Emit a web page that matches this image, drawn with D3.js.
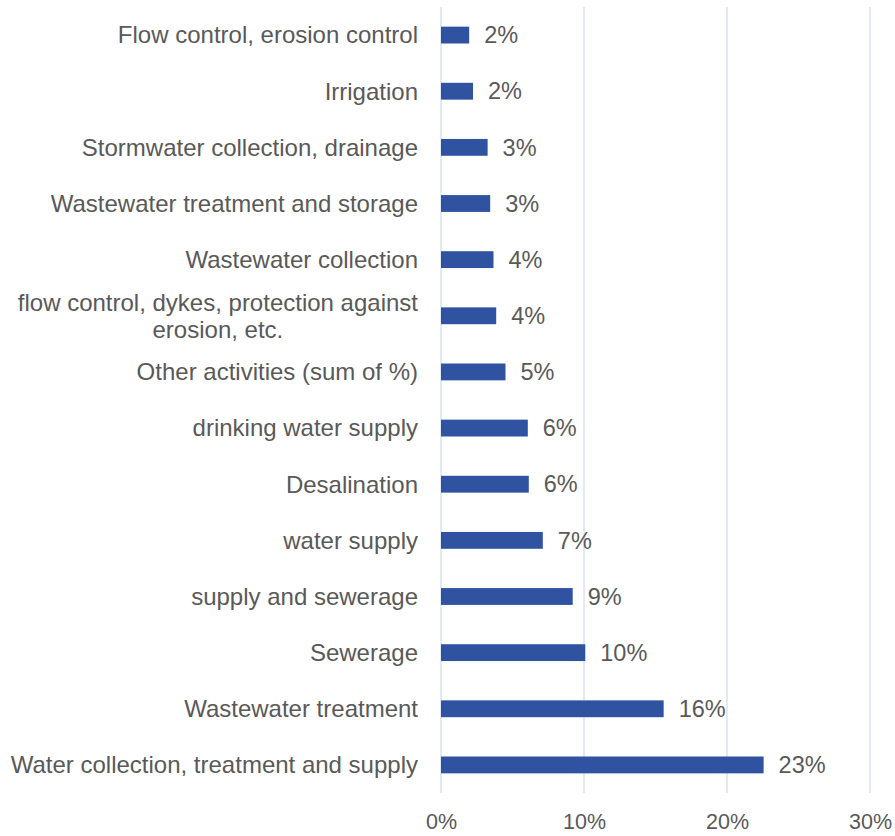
<!DOCTYPE html>
<html>
<head>
<meta charset="utf-8">
<script src="https://cdn.jsdelivr.net/npm/d3@7"></script>
<style>
  html, body { margin: 0; padding: 0; background: #fff; }
  svg { display: block; font-family: "Liberation Sans", Arial, sans-serif; }
</style>
</head>
<body>
<svg id="chart" width="895" height="836"></svg>
<script>
// Share of activities, top to bottom
const categories = [
  "Flow control, erosion control",
  "Irrigation",
  "Stormwater collection, drainage",
  "Wastewater treatment and storage",
  "Wastewater collection",
  "flow control, dykes, protection against\nerosion, etc.",
  "Other activities (sum of %)",
  "drinking water supply",
  "Desalination",
  "water supply",
  "supply and sewerage",
  "Sewerage",
  "Wastewater treatment",
  "Water collection, treatment and supply"
];
const shares = [0.0197, 0.0224, 0.0326, 0.0344, 0.0367, 0.0386, 0.0451,
                0.0607, 0.0614, 0.0712, 0.0921, 0.1009, 0.1557, 0.2256];
const tickValues = [0, 0.1, 0.2, 0.3];

const svg = d3.select("#chart");
const plotLeft = 441, plotRight = 870, plotTop = 7, plotBottom = 793;
const labelRight = 418;

const x = d3.scaleLinear().domain([0, 0.3]).range([plotLeft, plotRight]);
const y = d3.scaleBand().domain(categories).range([plotTop, plotBottom])
  .paddingInner(0.7).paddingOuter(0.35);

const fmt = d3.format(".0%");
const textColor = "#595959";

// Vertical gridlines
svg.append("g").selectAll("line").data(tickValues).join("line")
  .attr("x1", d => x(d)).attr("x2", d => x(d))
  .attr("y1", plotTop).attr("y2", plotBottom)
  .attr("stroke", "#D9E1F2").attr("stroke-width", 1.5);

// X axis labels
const xAxis = d3.axisBottom(x).tickValues(tickValues).tickFormat(fmt).tickSize(0).tickPadding(0);
const gx = svg.append("g").attr("transform", `translate(0,${plotBottom + 21})`).call(xAxis);
gx.select(".domain").remove();
gx.selectAll("text").attr("fill", textColor).attr("font-size", 21.5)
  .attr("font-family", "Liberation Sans, Arial, sans-serif");

// Bars
svg.append("g").selectAll("rect").data(categories).join("rect")
  .attr("x", x(0))
  .attr("y", d => y(d))
  .attr("width", (d, i) => x(shares[i]) - x(0))
  .attr("height", y.bandwidth())
  .attr("fill", "#2F52A1");

// Value labels
svg.append("g").selectAll("text").data(categories).join("text")
  .attr("x", (d, i) => x(shares[i]) + 15)
  .attr("y", d => y(d) + y.bandwidth() / 2)
  .attr("dy", "0.35em")
  .attr("fill", textColor).attr("font-size", 23.5)
  .text((d, i) => fmt(shares[i]));

// Category labels; wrapped labels are centred as a block ending at labelRight
svg.append("g").selectAll("text").data(categories).join("text")
  .attr("fill", textColor).attr("font-size", 24)
  .each(function(d) {
    const t = d3.select(this);
    const lines = d.split("\n");
    const cy = y(d) + y.bandwidth() / 2;
    const lh = 27;
    const spans = lines.map((ln, k) => t.append("tspan")
      .attr("y", cy + (k - (lines.length - 1) / 2) * lh)
      .attr("dy", "0.35em")
      .text(ln));
    if (lines.length === 1) {
      t.attr("text-anchor", "end");
      spans[0].attr("x", labelRight);
    } else {
      const w = d3.max(spans, s => s.node().getComputedTextLength());
      t.attr("text-anchor", "middle");
      spans.forEach(s => s.attr("x", labelRight - w / 2));
    }
  });
</script>
</body>
</html>
